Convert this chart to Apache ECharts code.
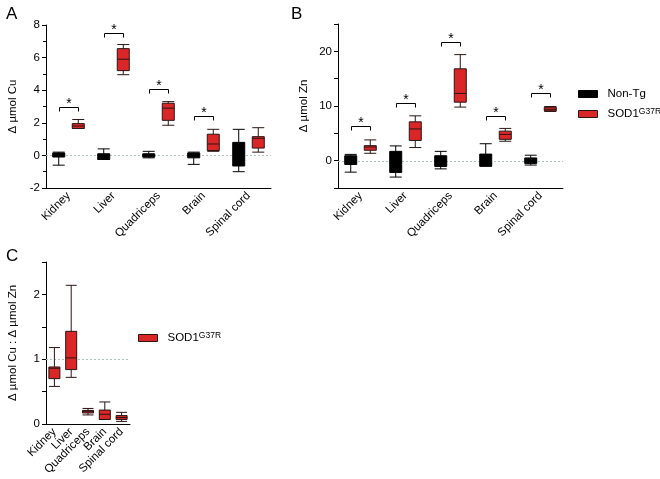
<!DOCTYPE html>
<html>
<head>
<meta charset="utf-8">
<script src="https://cdn.jsdelivr.net/npm/echarts@6/dist/echarts.min.js"></script>
<style>html,body{margin:0;padding:0;background:#fff}#c{width:660px;height:479px}</style>
</head>
<body>
<div id="c"></div>
<script>
// ---- data (boxplot: [min, Q1, median, Q3, max]) ----
const categories = ['Kidney', 'Liver', 'Quadriceps', 'Brain', 'Spinal cord'];

const cuNonTg = [
  [-0.6, -0.1, 0.05, 0.15, 0.2],
  [-0.25, -0.25, 0.0, 0.1, 0.4],
  [-0.15, -0.1, 0.0, 0.1, 0.25],
  [-0.55, -0.15, 0.05, 0.15, 0.2],
  [-1.0, -0.65, 0.1, 0.8, 1.6]
];
const cuSod = [
  [1.65, 1.65, 1.8, 1.95, 2.2],
  [4.95, 5.2, 5.9, 6.55, 6.8],
  [1.85, 2.15, 2.9, 3.2, 3.3],
  [0.25, 0.3, 0.7, 1.3, 1.6],
  [0.2, 0.45, 1.05, 1.15, 1.7]
];
const znNonTg = [
  [-2.1, -0.7, 0.0, 0.9, 1.15],
  [-3.0, -2.15, 0.0, 1.7, 2.7],
  [-1.5, -1.05, 0.0, 0.9, 1.7],
  [-1.0, -1.0, -0.5, 1.2, 3.1],
  [-0.8, -0.5, 0.0, 0.5, 1.0]
];
const znSod = [
  [1.35, 1.9, 2.5, 2.75, 3.8],
  [2.4, 3.7, 5.8, 7.1, 8.2],
  [9.8, 10.7, 12.3, 16.8, 19.4],
  [3.55, 3.9, 4.8, 5.4, 5.9],
  [9.0, 9.1, 9.4, 9.8, 9.9]
];
const ratioSod = [
  [0.58, 0.70, 0.86, 0.88, 1.18],
  [0.72, 0.84, 1.02, 1.43, 2.14],
  [0.14, 0.17, 0.195, 0.21, 0.24],
  [0.07, 0.07, 0.15, 0.215, 0.34],
  [0.04, 0.07, 0.10, 0.13, 0.18]
];
// significance bracket heights (null = none)
const cuSig = [3.0, 7.5, 4.1, 2.4, null];
const znSig = [6.3, 10.6, 21.7, 8.1, 12.3];
// reference (dotted) line levels per panel
const refLevels = [0, 0, 1];

const cuTicks = [-2, 0, 2, 4, 6, 8];
const znTicks = [0, 10, 20];
const ratioTicks = [0, 1, 2];

// ---- styling ----
const FONT = 'Liberation Sans, Arial, sans-serif';
const RED = '#da2626';
const RED_BORDER = '#2a1515';
const REF = '#a9c3c3';

function sigData(arr) {
  const out = [];
  arr.forEach((v, i) => { if (v !== null) out.push([i, v]); });
  return out;
}
function bracketRender(params, api) {
  const c = api.coord([api.value(0), api.value(1)]);
  const bw = api.size([1, 0])[0];
  const avail = bw * 0.8 - 2;
  const gap = avail / 2 * 0.3;
  const w = (avail - gap) / 2;
  const off = (w + gap) / 2;
  const x0 = Math.round(c[0] - off) + 0.5, x1 = Math.round(c[0] + off) + 0.5, y = Math.round(c[1]) + 0.5;
  return {
    type: 'group',
    children: [
      { type: 'polyline', shape: { points: [[x0, y + 4], [x0, y], [x1, y], [x1, y + 4]] },
        style: { stroke: '#000', fill: null, lineWidth: 1 } },
      { type: 'text', style: { text: '*', x: (x0 + x1) / 2, y: y - 3, align: 'center', verticalAlign: 'middle',
        fontSize: 14, fontFamily: FONT, fill: '#000' } }
    ]
  };
}
function refRender(params, api) {
  const cs = params.coordSys;
  const y = Math.round(api.coord([0, api.value(0)])[1]) + 0.5;
  return {
    type: 'line', shape: { x1: cs.x, y1: y, x2: cs.x + cs.width, y2: y },
    style: { stroke: REF, lineWidth: 1, lineDash: [2, 2] }
  };
}
function xAxis(gi) {
  return {
    type: 'category', gridIndex: gi, data: categories,
    axisLine: { onZero: false, lineStyle: { color: '#000', width: 1 } },
    axisTick: { alignWithLabel: true, length: 5, lineStyle: { color: '#000' } },
    axisLabel: { rotate: 45, margin: 6, interval: 0, fontSize: 11.5, color: '#000', fontFamily: FONT },
    splitLine: { show: false }
  };
}
function yAxis(gi, min, max, interval, ticks, name, gap, minor) {
  return {
    type: 'value', gridIndex: gi, min: min, max: max, interval: interval,
    name: name, nameLocation: 'middle', nameGap: gap, nameRotate: 90,
    nameTextStyle: { fontSize: 11.5, color: '#000', fontFamily: FONT },
    axisLine: { show: true, onZero: false, lineStyle: { color: '#000', width: 1 } },
    axisTick: { show: true, length: 4, lineStyle: { color: '#000' } },
    minorTick: minor ? { show: true, splitNumber: 2, length: 3, lineStyle: { color: '#000' } } : { show: false },
    axisLabel: { fontSize: 11.5, color: '#000', margin: 6, fontFamily: FONT,
      formatter: v => (ticks.indexOf(v) >= 0 ? String(v) : '') },
    splitLine: { show: false }
  };
}
function box(name, data, xi, color, border, w) {
  return {
    type: 'boxplot', name: name, xAxisIndex: xi, yAxisIndex: xi, data: data,
    boxWidth: [w, w], z: 3,
    itemStyle: { color: color, borderColor: border, borderWidth: 1 },
    emphasis: { disabled: true }
  };
}
function sig(name, arr, xi) {
  return {
    type: 'custom', name: name, xAxisIndex: xi, yAxisIndex: xi, data: sigData(arr),
    renderItem: bracketRender, clip: false, z: 2, silent: true
  };
}
function ref(name, xi) {
  return {
    type: 'custom', name: name, xAxisIndex: xi, yAxisIndex: xi, data: [[refLevels[xi]]],
    encode: { y: 0 }, renderItem: refRender, clip: false, z: 1, silent: true
  };
}

const legendFmt = n => (n === 'SOD1G37R' ? '{m|SOD1}{s|G37R}' : '{m|' + n + '}');
const legendText = {
  fontSize: 11.5, color: '#000', fontFamily: FONT,
  rich: {
    m: { fontSize: 11.5, fontFamily: FONT, color: '#000', lineHeight: 14, padding: [0, 0, 0, 5] },
    s: { fontSize: 8.5, fontFamily: FONT, color: '#000', verticalAlign: 'top', lineHeight: 9 }
  }
};

const option = {
  animation: false,
  backgroundColor: '#fff',
  title: [
    { text: 'A', left: 1, top: 1, textStyle: { fontSize: 17, fontWeight: 'normal', color: '#000', fontFamily: FONT } },
    { text: 'B', left: 286, top: 1, textStyle: { fontSize: 17, fontWeight: 'normal', color: '#000', fontFamily: FONT } },
    { text: 'C', left: 1, top: 243, textStyle: { fontSize: 17, fontWeight: 'normal', color: '#000', fontFamily: FONT } }
  ],
  grid: [
    { left: 46, top: 25, width: 225, height: 163 },
    { left: 338, top: 24, width: 225, height: 164 },
    { left: 46, top: 262, width: 84, height: 162 }
  ],
  xAxis: [xAxis(0), xAxis(1), xAxis(2)],
  yAxis: [
    yAxis(0, -2, 8, 2, cuTicks, 'Δ µmol Cu', 27, true),
    yAxis(1, -5, 25, 5, znTicks, 'Δ µmol Zn', 28, false),
    yAxis(2, 0, 2.5, 0.5, ratioTicks, 'Δ µmol Cu : Δ µmol Zn', 27, false)
  ],
  legend: [
    { orient: 'vertical', left: 578, top: 88, width: 82, padding: 0, itemWidth: 19, itemHeight: 7, itemGap: 7,
      selectedMode: false, formatter: legendFmt, textStyle: legendText,
      data: [
        { name: 'Non-Tg', icon: 'rect', itemStyle: { color: '#000', borderColor: '#000', borderWidth: 1 } },
        { name: 'SOD1G37R', icon: 'rect', itemStyle: { color: RED, borderColor: RED_BORDER, borderWidth: 1 } }
      ] },
    { orient: 'vertical', left: 138, top: 331, padding: 0, itemWidth: 19, itemHeight: 7,
      selectedMode: false, formatter: legendFmt, textStyle: legendText,
      data: [
        { name: 'SOD1G37R', icon: 'rect', itemStyle: { color: RED, borderColor: RED_BORDER, borderWidth: 1 } }
      ] }
  ],
  series: [
    ref('refA', 0),
    sig('sigA', cuSig, 0),
    box('Non-Tg', cuNonTg, 0, '#000', '#000', 12),
    box('SOD1G37R', cuSod, 0, RED, RED_BORDER, 12),
    ref('refB', 1),
    sig('sigB', znSig, 1),
    box('Non-Tg', znNonTg, 1, '#000', '#000', 12),
    box('SOD1G37R', znSod, 1, RED, RED_BORDER, 12),
    ref('refC', 2),
    box('SOD1G37R', ratioSod, 2, RED, RED_BORDER, 11)
  ]
};
const chart = echarts.init(document.getElementById('c'), null, { renderer: 'canvas' });
chart.setOption(option);
</script>
</body>
</html>
